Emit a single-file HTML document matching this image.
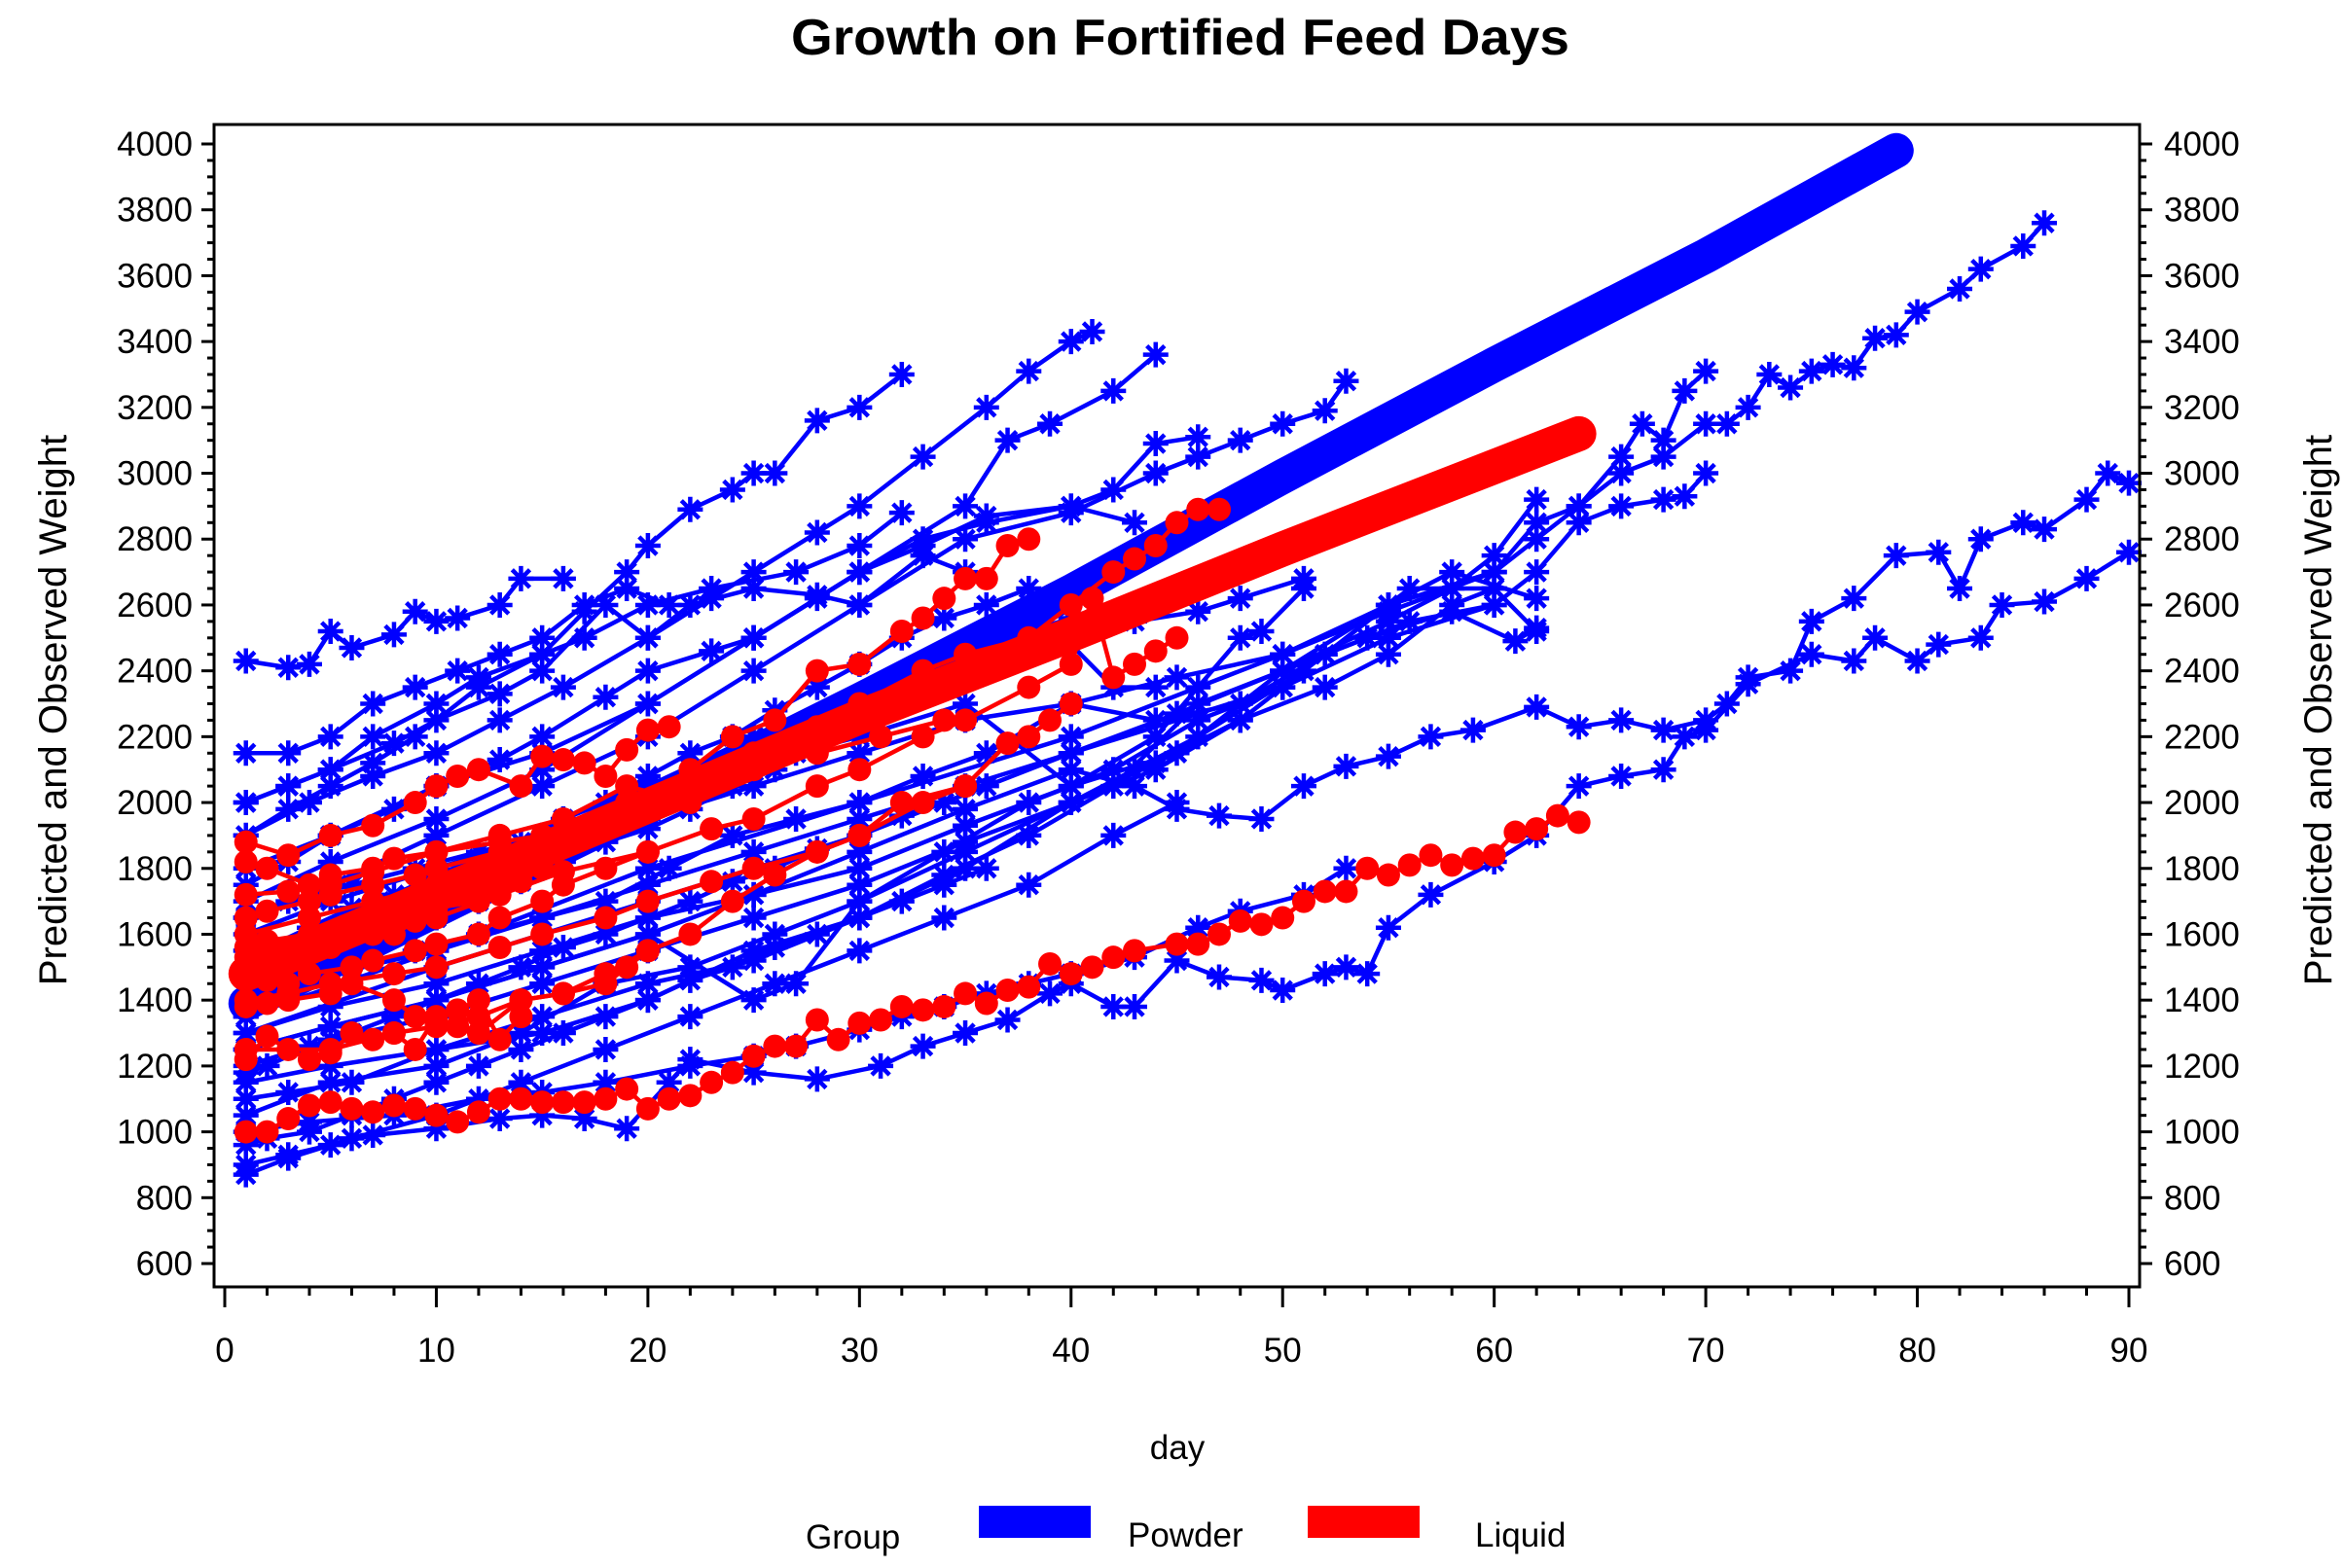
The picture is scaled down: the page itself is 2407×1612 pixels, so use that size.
<!DOCTYPE html>
<html><head><meta charset="utf-8"><style>
html,body{margin:0;padding:0;background:#fff;}
svg{display:block;font-family:"Liberation Sans",Arial,sans-serif;}
</style></head><body>
<svg id="chart" width="2407" height="1612" viewBox="0 0 2407 1612" xmlns="http://www.w3.org/2000/svg">
<text x="1213" y="56" text-anchor="middle" font-size="52" font-weight="bold" textLength="800" lengthAdjust="spacingAndGlyphs">Growth on Fortified Feed Days</text>
<g id="plot"></g>
<g id="axes"></g>
<text x="1210" y="1500" text-anchor="middle" font-size="35">day</text>
<text transform="translate(68,730) rotate(-90)" text-anchor="middle" font-size="40">Predicted and Observed Weight</text>
<text transform="translate(2396,730) rotate(-90)" text-anchor="middle" font-size="40">Predicted and Observed Weight</text>
<g>
<text x="828" y="1592" font-size="35">Group</text>
<rect x="1006" y="1548" width="115" height="33" fill="#0000ff"/>
<text x="1159" y="1590" font-size="35">Powder</text>
<rect x="1344" y="1548" width="115" height="33" fill="#ff0000"/>
<text x="1516" y="1590" font-size="35">Liquid</text>
</g>
</svg>
<script>
const xTicks=[0,10,20,30,40,50,60,70,80,90];
const yTicks=[600,800,1000,1200,1400,1600,1800,2000,2200,2400,2600,2800,3000,3200,3400,3600,3800,4000];
const powderPredicted=[[1,1390],[20,1990],[30,2310],[40,2640],[50,2990],[60,3330],[70,3660],[79,3980]];
const liquidPredicted=[[1,1480],[20,1990],[30,2260],[40,2510],[50,2770],[64,3120]];
const powderB1=[[1,2430],[3,2410],[4,2420],[5,2520],[6,2470],[8,2510],[9,2580],[10,2550],[11,2560],[13,2600],[14,2680],[16,2680]];
const powderB2=[[1,2000],[3,2050],[5,2100],[7,2200],[10,2300],[12,2380],[15,2450],[17,2580],[19,2700],[20,2780],[22,2890],[24,2950],[25,3000],[26,3000],[28,3160],[30,3200],[32,3300]];
const powderB3=[[1,1900],[4,2000],[7,2080],[10,2150],[13,2250],[16,2350],[20,2500],[23,2620],[25,2700],[28,2820],[30,2900],[33,3050],[36,3200],[38,3310],[40,3400],[41,3430]];
const powderB4=[[1,1700],[5,1820],[10,1950],[15,2100],[20,2300],[25,2500],[30,2700],[35,2900],[37,3100],[39,3150],[42,3250],[44,3360]];
const powderB5=[[1,1650],[5,1750],[10,1900],[15,2050],[20,2200],[25,2400],[30,2600],[35,2800],[40,2880],[44,3000],[46,3050],[48,3100],[50,3150],[52,3190],[53,3280]];
const powderB6=[[1,1800],[5,1900],[10,2050],[15,2150],[20,2300],[25,2500],[30,2700],[33,2780],[36,2870],[40,2900],[42,2950],[44,3090],[46,3110]];
const powderB7=[[1,1450],[5,1550],[10,1650],[15,1800],[20,1950],[25,2050],[30,2150],[35,2250],[40,2300],[45,2380],[50,2450],[55,2580],[60,2700],[62,2850],[64,2900],[66,3000],[68,3050],[70,3150],[71,3150],[72,3200],[73,3300],[74,3260],[75,3310],[76,3330],[77,3320],[78,3410],[79,3420],[80,3490],[82,3560],[83,3620],[85,3690],[86,3760]];
const powderB8=[[1,1350],[10,1550],[20,1800],[30,2000],[40,2200],[50,2450],[55,2600],[60,2700],[62,2800],[64,2900],[66,3050],[67,3150],[68,3100],[69,3250],[70,3310]];
const powderB9=[[1,1300],[10,1500],[20,1700],[30,1900],[40,2150],[50,2350],[55,2500],[60,2600],[62,2700],[64,2850],[66,2900],[68,2920],[69,2930],[70,3000]];
const powderB10=[[1,1250],[5,1320],[10,1400],[15,1500],[20,1600],[25,1720],[30,1850],[35,1980],[40,2100],[43,2050],[45,1980],[47,1960],[49,1950],[51,2050],[53,2110],[55,2140],[57,2200],[59,2220],[62,2290],[64,2230],[66,2250],[68,2220],[70,2250],[71,2300],[72,2380],[74,2400],[75,2550],[77,2620],[79,2750],[81,2760],[82,2650],[83,2800],[85,2850],[86,2830],[88,2920],[89,3000],[90,2970]];
const powderB11=[[1,900],[3,930],[5,960],[7,990],[10,1010],[13,1040],[15,1050],[17,1040],[19,1010],[21,1150],[22,1220],[25,1180],[28,1160],[31,1200],[33,1260],[35,1300],[37,1340],[39,1420],[40,1450],[42,1380],[43,1380],[45,1520],[47,1470],[49,1460],[50,1430],[52,1480],[53,1500],[54,1480],[55,1620],[57,1720],[60,1820],[62,1900],[64,2050],[66,2080],[68,2100],[69,2200],[70,2220],[72,2360],[75,2450],[77,2430],[78,2500],[80,2430],[81,2480],[83,2500],[84,2600],[86,2610],[88,2680],[90,2760]];
const powderB12=[[1,1000],[4,1030],[8,1050],[12,1100],[15,1120],[18,1150],[22,1200],[25,1230],[27,1260],[30,1310],[32,1350],[34,1380],[36,1420],[38,1450],[40,1480],[43,1530],[46,1620],[48,1670],[51,1720],[53,1800]];
const powderB13=[[1,1400],[5,1480],[10,1550],[15,1650],[20,1750],[25,1850],[30,1950],[35,2050],[40,2150],[45,2270],[50,2400],[55,2550],[58,2650],[60,2750],[62,2920]];
const powderB14=[[1,1300],[5,1380],[10,1450],[15,1550],[20,1650],[25,1720],[30,1800],[35,1930],[40,2050],[45,2150],[50,2400],[55,2600],[58,2700],[62,2620]];
const powderB15=[[1,1200],[5,1280],[10,1350],[15,1450],[20,1550],[25,1650],[30,1750],[35,1880],[40,2000],[44,2120],[48,2250],[52,2450],[56,2650],[60,2650],[62,2520]];
const powderB16=[[1,1150],[5,1200],[10,1250],[15,1350],[20,1450],[25,1520],[30,1650],[34,1780],[38,1900],[42,2050],[46,2300],[50,2400],[54,2500],[58,2580],[61,2490],[62,2530]];
const powderB17=[[1,1250],[5,1320],[10,1400],[15,1500],[20,1600],[25,1400],[27,1450],[30,1700],[35,1850],[40,2000],[43,2100],[46,2200],[51,2400],[55,2600],[60,2700]];
const powderB18=[[1,1600],[5,1700],[10,1800],[15,1900],[20,2050],[25,2200],[30,2300],[35,2400],[40,2500],[43,2550],[46,2580],[48,2620],[51,2680]];
const powderB19=[[1,1750],[3,1820],[5,1900],[8,1980],[10,2050],[13,2130],[15,2200],[18,2320],[20,2400],[23,2460],[25,2500],[28,2620],[30,2700],[33,2800],[36,2850],[40,2900],[43,2850]];
const powderB20=[[1,2000],[3,2050],[5,2100],[8,2180],[10,2250],[13,2330],[15,2400],[18,2600],[20,2500],[22,2600],[25,2650],[28,2630],[30,2600],[33,2750],[35,2700]];
const powderB21=[[1,1900],[3,1980],[5,2050],[7,2120],[9,2200],[12,2350],[15,2450],[17,2500],[20,2600],[23,2650],[27,2700],[30,2780],[32,2880]];
const powderB22=[[1,1500],[4,1600],[8,1700],[12,1800],[16,1900],[20,2050],[25,2150],[30,2250],[36,2400],[40,2480],[42,2350],[44,2350]];
const powderB23=[[1,1100],[3,1120],[6,1150],[10,1250],[15,1300],[20,1400],[25,1550],[30,1650],[35,1800],[40,2000],[44,2100],[48,2250],[52,2350],[55,2450],[58,2600],[60,2650]];
const powderB24=[[1,1050],[5,1150],[10,1200],[14,1300],[18,1450],[22,1500],[26,1600],[30,1700],[34,1850],[38,2000],[42,2100],[46,2250],[50,2350]];
const powderB25=[[1,1350],[3,1420],[6,1500],[9,1550],[12,1600],[15,1650],[18,1700],[21,1800],[24,1900],[27,1950],[30,2000],[33,2080],[36,2150],[40,2300],[44,2250],[48,2300],[52,2450],[56,2550],[60,2600]];
const powderB26=[[1,1650],[3,1700],[6,1750],[9,1800],[12,1850],[15,1900],[18,1950],[21,2030],[24,2100],[27,2150],[30,2200],[35,2300],[40,2050],[44,2200],[46,2350],[48,2500],[49,2520],[51,2650]];
const powderB27=[[1,870],[3,920],[6,980],[10,1050],[14,1150],[18,1250],[22,1350],[26,1450],[30,1550],[34,1650],[38,1750],[42,1900],[45,2000]];
const powderB28=[[1,2150],[3,2150],[5,2200],[7,2300],[9,2350],[11,2400],[13,2450],[15,2500],[17,2600],[19,2650],[21,2600]];
const powderB29=[[1,1550],[2,1560],[4,1620],[6,1680],[8,1720],[10,1780],[12,1830],[14,1880],[16,1950],[18,2000],[20,2080],[22,2150],[24,2200],[26,2280],[28,2350],[30,2420],[32,2500],[34,2560],[36,2600],[38,2650]];
const powderB30=[[1,1180],[2,1200],[4,1260],[6,1300],[8,1350],[10,1400],[12,1450],[14,1500],[16,1560],[18,1600],[20,1650],[22,1700],[24,1760],[26,1800],[28,1860],[30,1900],[32,1960],[34,2000],[36,2050]];
const powderB31=[[1,1450],[2,1480],[4,1520],[6,1560],[8,1600],[10,1650],[12,1700],[14,1760],[16,1820],[18,1880],[20,1920],[22,1980],[24,2050],[26,2100],[28,2180],[30,2230],[32,2300],[34,2380],[36,2450],[38,2520],[40,2560]];
const powderB32=[[1,960],[2,980],[4,1000],[6,1050],[8,1100],[10,1150],[12,1200],[14,1250],[16,1300],[18,1350],[20,1400],[22,1460],[24,1500],[26,1560],[28,1600],[30,1650],[32,1700],[34,1750],[36,1800]];
const liquidR1=[[1,1880],[3,1840],[5,1900],[7,1930],[9,2000],[10,2050],[11,2080],[12,2100],[14,2050],[15,2140],[16,2130],[17,2120],[18,2080],[19,2160],[20,2220],[21,2230]];
const liquidR2=[[1,1720],[3,1730],[5,1750],[7,1790],[10,1850],[13,1880],[15,1900],[18,1950],[20,2000],[22,2100],[24,2200],[26,2250],[28,2400],[30,2420],[32,2520],[33,2560],[34,2620],[35,2680],[36,2680],[37,2780],[38,2800]];
const liquidR3=[[1,1600],[4,1650],[7,1700],[10,1750],[13,1820],[16,1900],[20,2000],[23,2080],[25,2150],[28,2230],[30,2300],[33,2400],[35,2450],[38,2500],[40,2600],[42,2700],[43,2740],[44,2780],[45,2850],[46,2890],[47,2890]];
const liquidR4=[[1,1500],[4,1550],[7,1600],[10,1650],[13,1720],[16,1790],[20,1850],[23,1920],[25,1950],[28,2050],[30,2100],[33,2200],[35,2250],[38,2350],[40,2420],[41,2620],[42,2380],[43,2420],[44,2460],[45,2500]];
const liquidR5=[[1,1400],[3,1420],[5,1450],[8,1480],[10,1500],[13,1560],[15,1600],[18,1650],[20,1700],[23,1760],[25,1800],[28,1850],[30,1900],[32,2000],[35,2050],[37,2180],[38,2200],[39,2250],[40,2300]];
const liquidR6=[[1,1250],[5,1250],[8,1300],[10,1320],[12,1350],[14,1400],[16,1420],[18,1480],[20,1550],[22,1600],[24,1700],[26,1780],[28,1850],[30,1900],[33,2000],[35,2050]];
const liquidR7=[[1,1000],[2,1000],[3,1040],[4,1080],[5,1090],[6,1070],[7,1060],[8,1080],[9,1070],[10,1050],[11,1030],[12,1060],[13,1100],[14,1100],[15,1090],[16,1090],[17,1090],[18,1100],[19,1130],[20,1070],[21,1100],[22,1110],[23,1150],[24,1180],[25,1230],[26,1260],[27,1260],[28,1340],[29,1280],[30,1330],[31,1340],[32,1380],[33,1370],[34,1380],[35,1420],[36,1390],[37,1430],[38,1440],[39,1510],[40,1480],[41,1500],[42,1530],[43,1550],[45,1570],[46,1570],[47,1600],[48,1640],[49,1630],[50,1650],[51,1700],[52,1730],[53,1730],[54,1800],[55,1780],[56,1810],[57,1840],[58,1810],[59,1830],[60,1840],[61,1910],[62,1920],[63,1960],[64,1940]];
const liquidR8=[[1,1480],[2,1460],[3,1450],[4,1480],[6,1500],[7,1520],[9,1550],[10,1570],[12,1600],[13,1650],[15,1700],[16,1750],[18,1800],[20,1850]];
const liquidR9=[[1,1560],[2,1580],[4,1600],[6,1620],[8,1650],[10,1680],[12,1700],[14,1760],[15,1800],[17,1900],[18,1950],[20,2000],[22,2050],[24,2100]];
const liquidR10=[[1,1380],[2,1390],[3,1400],[5,1420],[6,1450],[8,1400],[9,1350],[10,1330],[11,1320],[12,1300],[14,1400],[16,1420],[18,1450],[19,1500],[20,1550]];
const liquidR11=[[1,1650],[2,1670],[4,1700],[5,1720],[7,1750],[9,1780],[10,1800],[13,1850],[16,1900],[19,2000],[22,2050],[25,2100],[28,2150],[31,2200],[34,2250]];
const liquidR12=[[1,1820],[2,1800],[4,1750],[5,1780],[7,1800],[8,1830],[10,1850],[13,1900],[16,1950],[19,2050],[22,2000]];
const liquidR13=[[1,1220],[2,1290],[3,1250],[4,1220],[5,1240],[6,1300],[7,1280],[8,1300],[9,1250],[10,1350],[11,1370],[12,1400],[13,1280],[14,1350]];
const liquidR14=[[1,1530],[2,1540],[3,1560],[4,1580],[5,1560],[6,1600],[7,1620],[8,1600],[9,1640],[10,1700],[11,1720],[12,1740],[13,1760],[14,1800],[15,1820]];

const powderSeries=[powderB1,powderB2,powderB3,powderB4,powderB5,powderB6,powderB7,powderB8,powderB9,powderB10,powderB11,powderB12,powderB13,powderB14,powderB15,powderB16,powderB17,powderB18,powderB19,powderB20,powderB21,powderB22,powderB23,powderB24,powderB25,powderB26,powderB27,powderB28,powderB29,powderB30,powderB31,powderB32];
const liquidSeries=[liquidR1,liquidR2,liquidR3,liquidR4,liquidR5,liquidR6,liquidR7,liquidR8,liquidR9,liquidR10,liquidR11,liquidR12,liquidR13,liquidR14];

const NS='http://www.w3.org/2000/svg';
const X0=231,X90=2188,Y4000=148,Y600=1299;
function xs(d){return X0+(X90-X0)*d/90;}
function ys(v){return Y4000+(Y600-Y4000)*(4000-v)/3400;}
function mk(tag,attrs,parent){const e=document.createElementNS(NS,tag);for(const k in attrs)e.setAttribute(k,attrs[k]);parent.appendChild(e);return e;}
const plot=document.getElementById('plot');
const axes=document.getElementById('axes');

function drawObserved(series,color,marker,name){
  series.forEach((s,i)=>{
    const g=mk('g',{},plot);
    
    
    const pl=mk('polyline',{points:s.map(p=>xs(p[0])+','+ys(p[1])).join(' '),fill:'none',stroke:color,'stroke-width':4.5,'stroke-linejoin':'round'},g);
    
    
    s.forEach(p=>{
      const cx=xs(p[0]),cy=ys(p[1]);
      if(marker==='star'){
        const r=13;
        const d=`M${cx-r},${cy}H${cx+r}M${cx},${cy-r}V${cy+r}M${cx-r*0.7},${cy-r*0.7}L${cx+r*0.7},${cy+r*0.7}M${cx-r*0.7},${cy+r*0.7}L${cx+r*0.7},${cy-r*0.7}`;
        const m=mk('path',{d:d,stroke:color,'stroke-width':4.5,fill:'none'},g);
        
        
      } else {
        const m=mk('circle',{cx:cx,cy:cy,r:12,fill:color},g);
        
        
      }
    });
  });
}
function drawPredicted(pts,color,name){
  const pl=mk('polyline',{points:pts.map(p=>xs(p[0])+','+ys(p[1])).join(' '),fill:'none',stroke:color,'stroke-width':36,'stroke-linecap':'round','stroke-linejoin':'round'},plot);
  
  
}
drawObserved(powderSeries,'#0000ff','star','powder-observed');
drawPredicted(powderPredicted,'#0000ff','powder-predicted-line');
drawObserved(liquidSeries,'#ff0000','circle','liquid-observed');
drawPredicted(liquidPredicted,'#ff0000','liquid-predicted-line');

const frame=mk('rect',{x:220,y:128,width:1979,height:1195,fill:'none',stroke:'#000','stroke-width':3},axes);


for(let v=600;v<=4000;v+=50){
  const y=ys(v),major=(v%200===0);
  const len=major?13:7;
  mk('line',{x1:220-len,x2:220,y1:y,y2:y,stroke:'#000','stroke-width':3},axes);
  mk('line',{x1:2199,x2:2199+len,y1:y,y2:y,stroke:'#000','stroke-width':3},axes);
}
yTicks.forEach(v=>{
  const t=mk('text',{x:198,y:ys(v)+12,'text-anchor':'end','font-size':35},axes);
  t.textContent=v;
  
  
  const t2=mk('text',{x:2224,y:ys(v)+12,'text-anchor':'start','font-size':35},axes);
  t2.textContent=v;
  
  
});
for(let d=0;d<=90;d+=2){
  const x=xs(d),major=(d%10===0);
  mk('line',{x1:x,x2:x,y1:1323,y2:major?1344:1332,stroke:'#000','stroke-width':3},axes);
}
xTicks.forEach(d=>{
  const t=mk('text',{x:xs(d),y:1400,'text-anchor':'middle','font-size':35},axes);
  t.textContent=d;
  
  
});
</script>
</body></html>
